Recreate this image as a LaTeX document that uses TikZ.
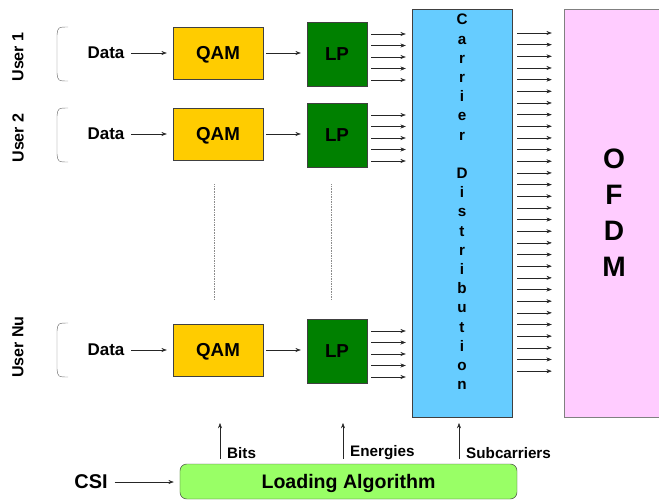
\documentclass[tikz,border=0pt]{standalone}
\usepackage{fontspec}
\setmainfont{Liberation Sans}
\usetikzlibrary{arrows.meta,calc}
\definecolor{qamyellow}{RGB}{255,204,0}
\definecolor{lpgreen}{RGB}{0,128,0}
\definecolor{cdblue}{RGB}{102,204,255}
\definecolor{ofdmpink}{RGB}{255,204,255}
\definecolor{algogreen}{RGB}{153,255,102}
\tikzset{
  blk/.style = {rectangle, draw=black!75, thin, inner sep=0pt,
    text height=11.5pt, text depth=0pt,
    font=\bfseries\fontsize{16}{19}\selectfont},% bloc de base
  qam/.style = {blk, fill=qamyellow, minimum width=2.7cm,
    minimum height=1.56cm},% modulation
  lp/.style = {blk, fill=lpgreen, minimum width=1.8cm,
    minimum height=1.92cm},% LP
  tall/.style = {blk, minimum width=3cm, minimum height=12.24cm},% grands blocs
  txt/.style = {inner sep=0pt, font=\bfseries\fontsize{14.5}{17}\selectfont},
  lbl/.style = {inner sep=0pt, anchor=west,
    font=\bfseries\fontsize{13}{15}\selectfont},
  usr/.style = {inner sep=0pt, rotate=90,
    font=\bfseries\fontsize{13.7}{16}\selectfont},
  flow/.style = {-{Stealth[length=4.5pt,width=3.4pt]}, draw=black!85,
    shorten <=0.2cm, shorten >=0.18cm},
  bracket/.style = {draw=black!55, thin},
  dotline/.style = {draw=black!45, densely dotted}
}
\begin{document}
\begin{tikzpicture}[x=0.03cm, y=-0.03cm]
  \useasboundingbox (0,0) rectangle (659,500);
  \clip (0,0) rectangle (659,500);
  % users
  \node [usr] (u1) at (18,57) {User 1};
  \node [usr] (u2) at (18,138) {User 2};
  \node [usr] (uN) at (18,347) {User Nu};
  \foreach \ya in {27,108,323}
    \draw [bracket] (68,\ya) .. controls (58,\ya) .. (57,\ya+8) -- (57,\ya+46)
      .. controls (58,\ya+54) .. (68,\ya+54);

  % big blocks
  \node [tall, fill=cdblue] (cd) at (462,213) {};
  \node [align=center, inner sep=0pt,
    font=\bfseries\fontsize{13}{16.4}\selectfont] (cdtext) at (462,202)
    {C\\a\\r\\r\\i\\e\\r\\[16.4pt]D\\i\\s\\t\\r\\i\\b\\u\\t\\i\\o\\n};
  \node [tall, fill=ofdmpink, draw=black!50, align=center, text height=,
    font=\bfseries\fontsize{24}{30.7}\selectfont] (ofdm) at (614,213)
    {O\\F\\D\\M};

  % rows
  \foreach \i/\y in {1/53,2/134,N/350}{
    \node [txt] (data\i) at (106,\y) {Data};
    \node [qam] (qam\i) at (218,\y) {QAM};
    \node [lp] (lp\i) at (337,\y+1) {LP};
    \draw [flow] (data\i) -- (qam\i);
    \draw [flow, shorten <=0.09cm] (qam\i) -- (qam\i -| lp\i.west);
    \foreach \dy in {-20,-8.5,3,14.5,26}
      \draw [flow, shorten <=0.12cm] ($(lp\i.east)+(0,\dy)$)
        -- ($(cd.west |- lp\i.east)+(0,\dy)$);
  }
  \draw [dotline, shorten <=0.72cm, shorten >=0.72cm]
    ([xshift=-0.12cm]qam2.south) -- ([xshift=-0.12cm]qamN.north);
  \draw [dotline, shorten <=0.51cm, shorten >=0.57cm]
    ([xshift=-0.18cm]lp2.south) -- ([xshift=-0.18cm]lpN.north);

  % subcarriers
  \foreach \k [evaluate=\k as \yy using 33+11.66*\k] in {0,...,29}
    \draw [flow, shorten <=0.15cm, shorten >=0.36cm]
      (cd.east |- 0,\yy) -- (ofdm.west |- 0,\yy);

  % loading
  \node [blk, fill=algogreen, rounded corners=0.2cm, minimum width=10.11cm,
    minimum height=1.05cm, text height=12pt, text depth=0pt,
    font=\bfseries\fontsize{16.7}{20}\selectfont]
    (la) at (348.5,481.5) {Loading Algorithm};
  \node [txt, font=\bfseries\fontsize{17}{20}\selectfont] (csi) at (91,482) {CSI};
  \draw [flow] (csi) -- (csi -| la.west);
  \coordinate (bitsTip) at (220,423);
  \coordinate (enTip) at (343,423);
  \coordinate (subTip) at (459,423);
  \foreach \t/\txt in {bitsTip/Bits,enTip/Energies,subTip/Subcarriers}{
    \draw [flow, shorten >=0pt, shorten <=0.15cm] (la.north -| \t) -- (\t);
    \node [lbl] (\t-l) at ($(\t)+(7,30)$) {\txt};
  }
\end{tikzpicture}
\end{document}
